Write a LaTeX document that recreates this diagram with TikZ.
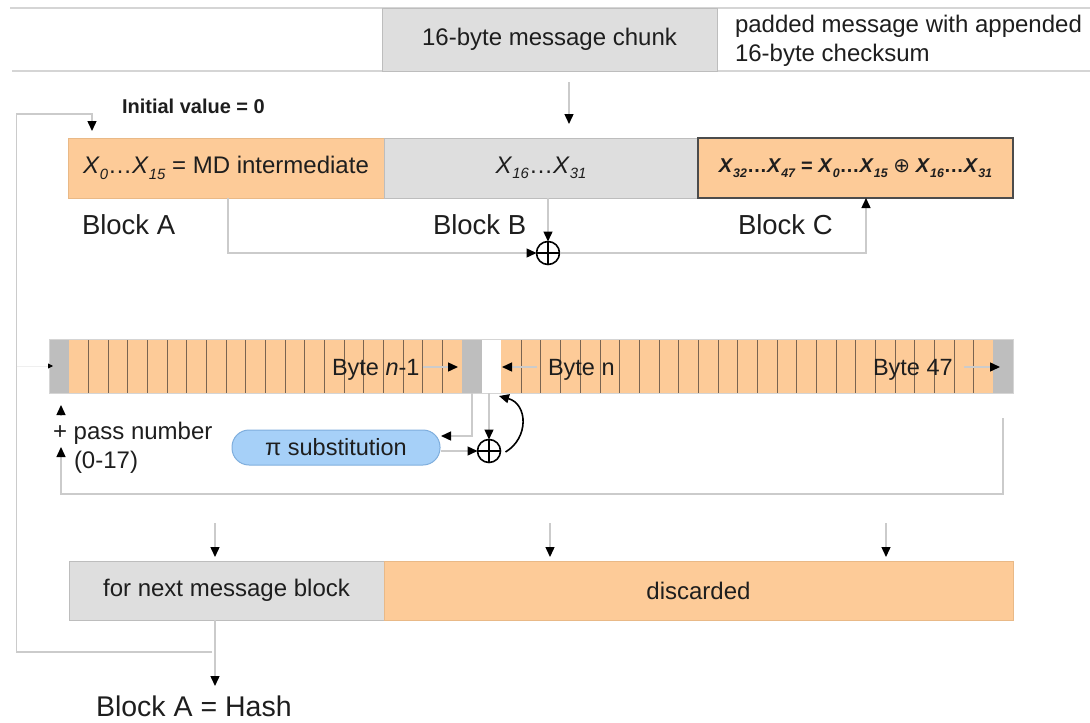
\documentclass[tikz,border=0pt]{standalone}
\usepackage{fontspec}
\usepackage{graphicx}
\setmainfont{Liberation Sans}
\newfontfamily\dejavu{DejaVu Sans}
\usetikzlibrary{arrows.meta}
\definecolor{peach}{HTML}{FDCB98}
\definecolor{peachborder}{HTML}{E9B987}
\definecolor{boxgray}{HTML}{DEDEDE}
\definecolor{boxborder}{HTML}{BDBDBD}
\definecolor{cellgray}{HTML}{BEBEBE}
\definecolor{linegray}{HTML}{CBCBCB}
\definecolor{txt}{HTML}{1E1E1E}
\definecolor{piblue}{HTML}{A6D0F8}
\definecolor{piborder}{HTML}{7FAEDD}
\definecolor{divider}{HTML}{7A6450}
\newcommand{\fs}[1]{\fontsize{#1pt}{#1pt}\selectfont}
\newcommand{\Xsub}[1]{\textit{X}\raisebox{-0.22em}{\scalebox{0.62}{\textit{#1}}}}
\begin{document}
\begin{tikzpicture}[x=1pt,y=-1pt,
  box/.style={inner sep=0pt, outer sep=0pt, anchor=north west, text=txt},
  graybox/.style={box, fill=boxgray, draw=boxborder, line width=1pt},
  peachbox/.style={box, fill=peach, draw=peachborder, line width=1pt},
  peachC/.style={box, fill=peach, draw=black!70, line width=1.5pt},
  cell/.style={box, minimum width=19.673pt, minimum height=54pt},
  lbl/.style={text=txt, inner sep=0pt, outer sep=0pt},
  rule/.style={draw=linegray!80, line width=1.8pt},
  conn/.style={draw=linegray, line width=1.4pt},
  arr/.style={conn, -{Triangle[length=10pt,width=9pt,color=black,fill=black]}},
  smallarr/.style={draw=linegray!30, line width=0.8pt, -{Triangle[length=5pt,width=5pt,color=black,fill=black]}},
  curv/.style={draw=black, line width=1.6pt, -{Triangle[length=10pt,width=9pt]}},
  divline/.style={draw=divider, line width=0.7pt},
  xorc/.style={circle, draw=black, line width=1.6pt, minimum size=23pt, inner sep=0pt, outer sep=0pt,
    path picture={\draw[line width=1.6pt] (path picture bounding box.north) -- (path picture bounding box.south)
      (path picture bounding box.west) -- (path picture bounding box.east);}},
  pibox/.style={fill=piblue, draw=piborder, line width=1pt, rounded corners=17pt, minimum width=208pt,
    minimum height=35pt, inner sep=0pt, text=txt}
]
\useasboundingbox (0,0) rectangle (1090,723);
% ---------- top band ----------
\coordinate (t1a) at (10,8); \coordinate (t1b) at (1090,8);
\coordinate (t2a) at (12,71); \coordinate (t2b) at (1090,71);
\draw[rule] (t1a) -- (t1b);
\draw[rule] (t2a) -- (t2b);
\node[graybox, minimum width=335pt, minimum height=63pt, font=\fs{24}] (chunk) at (382,8) {16-byte message chunk};
\node[lbl, anchor=base west, font=\fs{24}] (pad1) at (735,32) {padded message with appended};
\node[lbl, anchor=base west, font=\fs{24}] (pad2) at (735,61) {16-byte checksum};
\coordinate (m1) at (569,82); \coordinate (m2) at (569,124);
\draw[arr] (m1) -- (m2);
\node[lbl, anchor=west, font=\fs{20}\bfseries] (init) at (122,106) {Initial value = 0};
% ---------- blocks ----------
\node[peachbox, minimum width=316pt, minimum height=60pt, font=\fs{24}] (A) at (68,138) {\Xsub{0}…\Xsub{15} = MD intermediate};
\node[graybox, minimum width=314pt, minimum height=60pt, font=\fs{24}] (B) at (384,138) {\Xsub{16}…\Xsub{31}};
\node[peachC, minimum width=315pt, minimum height=60pt, font=\fs{20}\bfseries] (C) at (698,138)
  {\Xsub{32}…\Xsub{47} = \Xsub{0}…\Xsub{15} {\dejavu\mdseries\upshape ⊕} \Xsub{16}…\Xsub{31}};
\node[lbl, anchor=base west, font=\fs{27.5}] (la) at (82,234) {Block A};
\node[lbl, anchor=base west, font=\fs{27.5}] (lb) at (433,234) {Block B};
\node[lbl, anchor=base west, font=\fs{27.5}] (lc) at (738,234) {Block C};
\node[xorc] (x1) at (548,253) {};
\draw[arr] (A.south -| 228,0) -- (228,253) -- (x1.west);
\draw[arr] (B.south -| x1.north) -- (x1.north);
\draw[arr] (x1.east) -- (866,253) -- (C.south -| 866,0);
% ---------- feedback loop ----------
\coordinate (fb0) at (212,652);
\draw[arr] (fb0) -- (16.7,652) -- (16.7,114) -- (92,114) -- (92,131);
% ---------- byte strip ----------
\fill[peach] (68.673,339) rectangle (462.13,393);
\fill[peach] (501.48,339) rectangle (993.33,393);
\foreach \i in {2,...,20,24,25,...,47} {
  \draw[divline] ({49+\i*19.673},339) -- ({49+\i*19.673},393);
}
\node[cell, fill=cellgray] (g0) at (49,339) {};
\node[cell, fill=cellgray] (g1) at (462.13,339) {};
\node[cell, fill=white] (wn) at (481.80,339) {};
\node[cell, fill=cellgray] (g2) at (993.33,339) {};
\node[box, draw=linegray!80, line width=1pt, minimum width=964pt, minimum height=54pt] (strip) at (49,339) {};
\coordinate (sl) at (16.7,366);
\draw[smallarr] (sl) -- ([xshift=4pt]g0.west);
\node[lbl, anchor=base west, font=\fs{23.5}] (bn1) at (332,375) {Byte \textit{n}-1};
\node[lbl, anchor=base west, font=\fs{23.5}] (bn) at (548,375) {Byte n};
\node[lbl, anchor=base west, font=\fs{23.5}] (b47) at (873,375) {Byte 47};
\draw[arr] (bn1.east |- 0,367) ++(3,0) -- (458,367);
\draw[arr] (537,367) -- (502,367);
\draw[arr] (964,367) -- (1000,367);
% ---------- pi substitution ----------
\node[pibox, font=\fs{23.5}] (pi) at (336,447.5) {π substitution};
\node[xorc] (x2) at (489,451) {};
\draw[arr] (g1.south) -- (g1.south |- 0,436) -- (441,436);
\draw[arr] (pi.east |- x2.west) -- (x2.west);
\draw[arr] (wn.south -| x2.north) -- (x2.north);
\coordinate (ce) at (499,396);
\draw[curv] ([shift={(5pt,-1pt)}]x2.east) .. controls (529,438) and (528,404) .. (ce);
% ---------- pass number loop ----------
\coordinate (pl1) at (1003,418);
\draw[arr] (pl1) -- (1003,494) -- (61,494) -- (61,447);
\coordinate (pu1) at (61,415); \coordinate (pu2) at (61,405);
\draw[arr] (pu1) -- (pu2);
\node[lbl, anchor=west, font=\fs{24}] (pass) at (53,433) {+ pass number};
\node[lbl, anchor=west, font=\fs{24}] (range) at (74,462) {(0-17)};
% ---------- bottom ----------
\coordinate (d1a) at (215,523); \coordinate (d1b) at (215,557);
\coordinate (d2a) at (550,523); \coordinate (d2b) at (550,557);
\coordinate (d3a) at (886,523); \coordinate (d3b) at (886,557);
\draw[arr] (d1a) -- (d1b);
\draw[arr] (d2a) -- (d2b);
\draw[arr] (d3a) -- (d3b);
\node[graybox, minimum width=315pt, minimum height=59pt, font=\fs{24}] (L) at (69,561) {for next message block};
\node[peachbox, minimum width=629pt, minimum height=59pt, font=\fs{24}] (D) at (384,561) {discarded};
\draw[arr] (L.south -| 215,0) -- (215,686);
\node[lbl, anchor=base west, font=\fs{28.5}] (hash) at (96,716) {Block A = Hash};
\end{tikzpicture}
\end{document}
